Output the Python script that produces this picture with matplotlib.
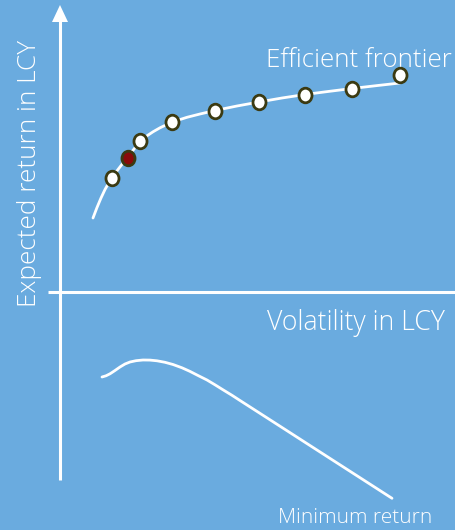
import matplotlib
matplotlib.use("Agg")
import matplotlib.pyplot as plt
from matplotlib.path import Path
import numpy as np

# Data (origin at the intersection of the two axes; x = volatility, y = return)
frontier_x = [33, 37, 41, 45, 49, 53, 58, 63, 68, 74, 80, 86, 93, 100, 108, 117, 127, 140,
              155, 177, 199, 222, 245, 268, 292, 316, 340]
frontier_y = [74, 84.5, 94, 102.5, 109.5, 115.5, 122.5, 129, 135, 143, 150, 155.5, 160.2,
              164.2, 168, 171.5, 174.7, 178, 181.5, 186, 190, 194, 197.5, 200.5, 203.5, 206.3, 209]
portfolio_x = [52, 80, 112, 155, 199, 245, 292, 340]
portfolio_y = [114, 151, 170, 181, 190, 197, 203, 217]
selected_x = [68]
selected_y = [134]
minret_x = [42, 46, 50, 55, 60, 65, 70, 76, 83, 90, 97, 105, 113, 122, 130, 138, 147, 155,
            163, 172, 180, 220, 270, 300, 332]
minret_y = [-85, -83.8, -81.8, -78.5, -75, -72, -70, -68.7, -68, -68.1, -68.8, -70.3, -72.5,
            -75.8, -79.4, -83.5, -88, -92.8, -97.8, -103.3, -108.5, -134.2, -166.4, -185.7, -206.3]

BG = "#6aabdf"
W, H = 455, 530
fig = plt.figure(figsize=(W / 100, H / 100), dpi=100, facecolor=BG)
ax = fig.add_axes([0, 0, 1, 1])
ax.set_facecolor(BG)
ox, oy = 60, 292
ax.set_xlim(-ox, W - ox)
ax.set_ylim(oy - H, oy)
ax.axis("off")

font = ["Open Sans", "DejaVu Sans"]

# axes
ax.plot([0, 0], [oy - 480, oy - 21], color="white", lw=2.2, solid_capstyle="butt")
ax.plot([-12, W - ox + 5], [0, 0], color="white", lw=2.2, solid_capstyle="butt")
ax.add_patch(plt.Polygon([[-8, oy - 22], [8, oy - 22], [0, oy - 5]], closed=True,
                         color="white", lw=0))

# curves
ax.plot(frontier_x, frontier_y, color="white", lw=2, solid_capstyle="round",
        solid_joinstyle="round", zorder=3)
ax.plot(minret_x, minret_y, color="white", lw=2, solid_capstyle="round",
        solid_joinstyle="round", zorder=3)

# elliptic marker
circ = Path.unit_circle()
ell = Path(circ.vertices * np.array([1.0, 1.12]), circ.codes)
ax.plot(portfolio_x, portfolio_y, ls="none", marker=ell, ms=10.5, mfc="white",
        mec="#3b3a12", mew=2, zorder=4)
ax.plot(selected_x, selected_y, ls="none", marker=ell, ms=10.5, mfc="#8a0a0a",
        mec="#3b3a12", mew=2, zorder=4)

# labels
kw = dict(color="white", family=font, fontweight="light")
ax.text(452 - ox, oy - 67, "Efficient frontier", fontsize=18.7, ha="right", va="baseline", **kw)
ax.text(445 - ox, oy - 330, "Volatility in LCY", fontsize=19.2, ha="right", va="baseline", **kw)
ax.text(42 - ox, oy - 173.5, "Expected return in LCY", fontsize=18.8,
        ha="right", va="center", rotation=90, **kw)
ax.text(432 - ox, oy - 523, "Minimum return", fontsize=15, ha="right", va="baseline", **kw)

fig.savefig("out.png", dpi=100, facecolor=BG)
